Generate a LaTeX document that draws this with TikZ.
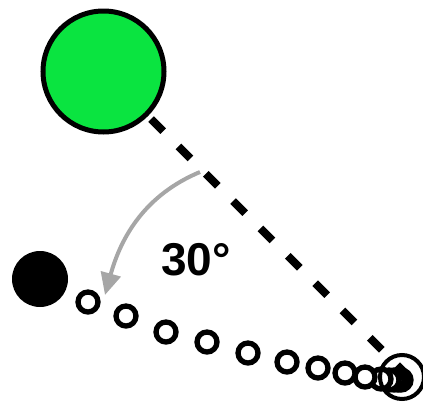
\documentclass[tikz,border=0pt]{standalone}
\usepackage{fontspec}
\setmainfont{Liberation Sans}
\usetikzlibrary{arrows.meta}
\definecolor{ballgreen}{RGB}{10,228,64}
\definecolor{arrowgray}{RGB}{166,166,166}
\begin{document}
\begin{tikzpicture}[x=1pt,y=-1pt,
  trail/.style={circle, draw=black, line width=5.3pt, minimum size=20pt, inner sep=0pt, fill=white},
  rod/.style={line width=8pt, dash pattern=on 17pt off 21.66pt, dash phase=10pt},
  swing/.style={arrowgray, line width=4pt, -{Triangle[length=22pt,width=20pt]}}]
\useasboundingbox (0,0) rectangle (423,407);
\coordinate (pivot) at (405,373);
\node[circle, minimum size=121pt, inner sep=0pt] (green) at (103.5,71.5) {};
\draw[rod] (green.center) -- (pivot);
\node[circle, fill=ballgreen, draw=black, line width=5pt, minimum size=121pt, inner sep=0pt] at (103.5,71.5) {};
\node[circle, fill=black, minimum size=56pt, inner sep=0pt] (black) at (40,279) {};
\foreach \i/\x/\y in {1/401/380,2/398/380,3/394/380,4/389/380,5/381/379,6/365/377,7/345/373,8/318/368,9/287/362,10/248/353,11/207/342,12/166/332,13/126/316,14/88/302}
  \node[trail] (t\i) at (\x,\y) {};
\node[circle, draw=black, line width=4pt, minimum size=44pt, inner sep=0pt] (big) at (402,377) {};
\coordinate (arrS) at (200,172);
\coordinate (arrE) at (105,295);
\draw[swing] (arrS) .. controls (145,195) and (121,237) .. (arrE);
\node[anchor=base west, inner sep=0pt, font=\bfseries\fontsize{46}{46}\selectfont] (angle) at (161,275) {30°};
\end{tikzpicture}
\end{document}
